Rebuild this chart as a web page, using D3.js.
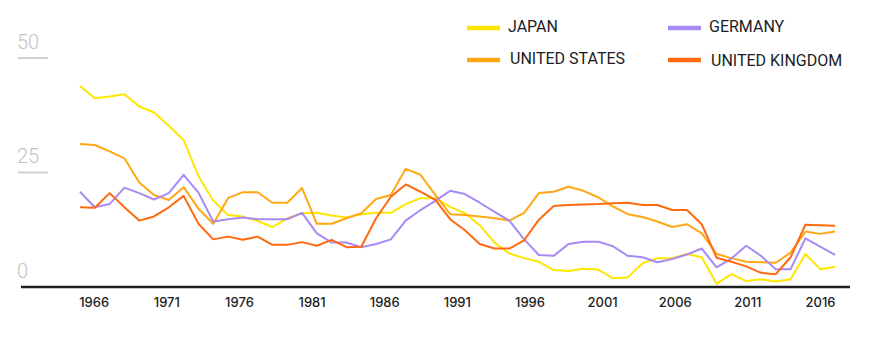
<!DOCTYPE html>
<html>
<head>
<meta charset="utf-8">
<script src="https://cdn.jsdelivr.net/npm/d3@7"></script>
<style>
    body { margin: 0; background: #fff; }
    #wrapper { width: 889px; height: 350px; }
</style>
</head>
<body>
<div id="wrapper"></div>
<script>
// data
const years = [1965, 1966, 1967, 1968, 1969, 1970, 1971, 1972, 1973, 1974,
    1975, 1976, 1977, 1978, 1979, 1980, 1981, 1982, 1983, 1984,
    1985, 1986, 1987, 1988, 1989, 1990, 1991, 1992, 1993, 1994,
    1995, 1996, 1997, 1998, 1999, 2000, 2001, 2002, 2003, 2004,
    2005, 2006, 2007, 2008, 2009, 2010, 2011, 2012, 2013, 2014,
    2015, 2016];
const japan = [43.9, 41.2, 41.6, 42.1, 39.4, 38.1, 35.2, 32.1, 24.2, 18.9,
    15.7, 15.4, 14.4, 13.1, 15.0, 16.1, 16.2, 15.6, 15.2, 15.9,
    16.2, 16.2, 18.1, 19.4, 19.4, 17.5, 16.1, 13.5, 9.7, 7.3,
    6.3, 5.5, 3.7, 3.5, 4.0, 3.8, 1.9, 2.1, 5.2, 6.3,
    6.3, 7.2, 6.5, 0.7, 2.8, 1.3, 1.7, 1.2, 1.7, 7.2,
    3.9, 4.4];
const unitedStates = [31.2, 31.0, 29.6, 28.1, 22.8, 20.1, 19.0, 21.8, 17.1, 13.8,
    19.4, 20.7, 20.7, 18.4, 18.4, 21.6, 13.8, 13.8, 15.0, 16.1,
    19.2, 20.1, 25.8, 24.5, 20.1, 15.9, 15.7, 15.4, 15.0, 14.5,
    16.2, 20.5, 20.8, 21.9, 21.0, 19.6, 17.6, 15.9, 15.3, 14.3,
    13.1, 13.7, 11.7, 7.2, 6.3, 5.5, 5.4, 5.3, 7.5, 12.1,
    11.6, 12.1];
const germany = [20.8, 17.4, 18.1, 21.7, 20.5, 19.1, 20.5, 24.5, 20.6, 14.3,
    14.8, 15.2, 14.8, 14.8, 14.8, 16.2, 11.7, 9.7, 9.7, 8.7,
    9.4, 10.4, 14.5, 16.8, 18.8, 21.0, 20.3, 18.4, 16.4, 14.5,
    10.4, 7.0, 6.8, 9.4, 9.9, 9.9, 8.9, 6.8, 6.5, 5.4,
    6.1, 7.1, 8.4, 4.3, 6.2, 9.0, 6.8, 3.9, 3.9, 10.6,
    8.8, 7.0];
const unitedKingdom = [17.4, 17.3, 20.5, 17.4, 14.5, 15.4, 17.4, 19.9, 13.8, 10.4,
    11.0, 10.3, 11.0, 9.2, 9.2, 9.8, 9.0, 10.3, 8.7, 8.8,
    15.0, 19.7, 22.4, 20.8, 19.0, 14.8, 12.4, 9.4, 8.4, 8.4,
    10.2, 14.7, 17.7, 17.9, 18.0, 18.1, 18.3, 18.4, 17.9, 17.9,
    16.8, 16.8, 13.7, 6.4, 5.5, 4.5, 3.1, 2.8, 6.5, 13.6,
    13.5, 13.4];
const seriesNames = ['JAPAN', 'UNITED STATES', 'GERMANY', 'UNITED KINGDOM'];
const seriesColors = ['#ffe600', '#ffa814', '#a98af2', '#ff6a10'];
const tickYears = [1966, 1971, 1976, 1981, 1986, 1991, 1996, 2001, 2006, 2011, 2016];
const yTicks = [0, 25, 50];

function drawChart() {
    const dataset = [japan, unitedStates, germany, unitedKingdom];

    // dimensions
    const dimensions = {
        width: 889,
        height: 350,
        plotLeft: 80,
        plotRight: 835,
        plotTop: 58,
        baseline: 287
    };

    const wrapper = d3.select('#wrapper')
        .append('svg')
        .attr('width', dimensions.width)
        .attr('height', dimensions.height);

    // scales
    const xScale = d3.scaleLinear()
        .domain(d3.extent(years))
        .range([dimensions.plotLeft, dimensions.plotRight]);
    // the year labels sit on their own spacing in the original
    const tickScale = d3.scaleLinear()
        .domain([1966, 2016])
        .range([93.7, 820]);
    const yScale = d3.scaleLinear()
        .domain([0, 50])
        .range([dimensions.baseline, dimensions.plotTop]);

    // y ticks: grey number over a short rule
    const yAxis = wrapper.append('g').attr('class', 'yAxis');
    yAxis.selectAll('line')
        .data(yTicks.filter(d => d !== 0))
        .join('line')
        .attr('x1', 18)
        .attr('x2', 48)
        .attr('y1', d => yScale(d))
        .attr('y2', d => yScale(d))
        .attr('stroke', '#cfcfcf')
        .attr('stroke-width', 2);
    yAxis.selectAll('text')
        .data(yTicks)
        .join('text')
        .attr('x', 17)
        .attr('y', d => yScale(d) - 9.5)
        .attr('fill', '#c3c3c3')
        .style('font-family', 'Roboto, sans-serif')
        .style('font-weight', 300)
        .style('font-size', '20px')
        .text(d => d);

    // lines
    const lineGenerator = d3.line()
        .x((d, i) => xScale(years[i]))
        .y(d => yScale(d));
    wrapper.append('g')
        .attr('class', 'lines')
        .selectAll('path')
        .data(dataset)
        .join('path')
        .attr('d', lineGenerator)
        .attr('fill', 'none')
        .attr('stroke', (d, i) => seriesColors[i])
        .attr('stroke-width', 2)
        .attr('stroke-linejoin', 'round');

    // x axis
    wrapper.append('line')
        .attr('x1', 21)
        .attr('x2', 850)
        .attr('y1', dimensions.baseline)
        .attr('y2', dimensions.baseline)
        .attr('stroke', '#1e1e1e')
        .attr('stroke-width', 2.5);
    const xAxisGenerator = d3.axisBottom(tickScale)
        .tickValues(tickYears)
        .tickSize(0)
        .tickPadding(0)
        .tickFormat(d3.format('d'));
    const xAxis = wrapper.append('g')
        .attr('class', 'xAxis')
        .attr('transform', `translate(0, ${dimensions.baseline + 11})`)
        .call(xAxisGenerator);
    xAxis.select('.domain').remove();
    xAxis.selectAll('text')
        .attr('fill', '#222')
        .style('font-family', 'Inter, sans-serif')
        .style('font-weight', 500)
        .style('font-size', '13px');

    // legend
    const legendX = [467, 668];
    const legendY = [28, 60];
    const legend = wrapper.append('g').attr('class', 'legend')
        .selectAll('g')
        .data(seriesNames)
        .join('g')
        .attr('transform', (d, i) =>
            `translate(${legendX[Math.floor(i / 2)]}, ${legendY[i % 2]})`);
    legend.append('line')
        .attr('x1', 0)
        .attr('x2', 33)
        .attr('stroke', (d, i) => seriesColors[i])
        .attr('stroke-width', 4.5);
    legend.append('text')
        .attr('x', (d, i) => i % 2 === 0 ? 41 : 43)
        .attr('y', (d, i) => i === 3 ? 2 : 0)
        .attr('dominant-baseline', 'middle')
        .attr('fill', '#1c1c24')
        .style('font-family', 'Roboto, sans-serif')
        .style('font-size', '16px')
        .text(d => d);
}

drawChart();
</script>
</body>
</html>
